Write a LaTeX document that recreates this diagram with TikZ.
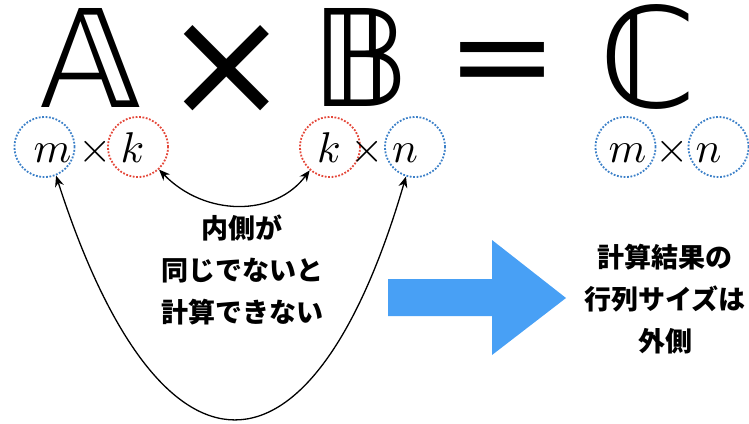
\documentclass[tikz,border=0pt]{standalone}
\usepackage{fontspec}
\usepackage{graphicx}
\usetikzlibrary{arrows.meta}
\newfontfamily\jp{Noto Sans CJK JP}
\newfontfamily\dv{DejaVu Sans}
\definecolor{cblue}{RGB}{60,128,200}
\definecolor{cred}{RGB}{228,72,58}
\definecolor{arrowblue}{RGB}{72,160,245}
\newcommand{\mybigmath}[1]{\scalebox{4.3}{$#1$}}
\tikzset{
  bcirc/.style={circle, draw=cblue, line width=1.8pt, dash pattern=on 1.8pt off 1.6pt, minimum size=60pt, inner sep=0pt},
  rcirc/.style={circle, draw=cred, line width=1.8pt, dash pattern=on 1.8pt off 1.6pt, minimum size=60pt, inner sep=0pt},
  mtext/.style={anchor=base, inner sep=0pt},
  big/.style={inner sep=0pt, font=\dv},
  jtext/.style={font=\jp\bfseries\fontsize{27}{42}\selectfont, align=center, inner sep=0pt},
  dbl/.style={{Stealth[length=11pt,width=9pt]}-{Stealth[length=11pt,width=9pt]}, line width=1.3pt}
}
\begin{document}
\begin{tikzpicture}[x=1pt,y=-1pt]
\useasboundingbox (0,0) rectangle (749,423);
% big equation
\node[big] (A) at (90.5,57.5) {\resizebox{!}{99pt}{𝔸}};
\node[big] (times) at (227,70) {\resizebox{!}{90pt}{×}};
\node[big] (B) at (361,57) {\resizebox{!}{98pt}{𝔹}};
\node[big] (eq) at (502.5,70) {\resizebox{112pt}{56pt}{=}};
\node[big] (C) at (648,56.5) {\resizebox{!}{103pt}{ℂ}};
% circles
\node[bcirc] (cm1) at (44.5,147) {};
\node[rcirc] (ck1) at (138,147) {};
\node[rcirc] (ck2) at (330,147) {};
\node[bcirc] (cn2) at (415,147) {};
\node[bcirc] (cm3) at (625.5,147) {};
\node[bcirc] (cn3) at (718.5,147) {};
% math letters
\node[mtext] (m1) at (52.5,162) {\mybigmath{m}};
\node[mtext] (x1) at (95.5,162) {\mybigmath{\times}};
\node[mtext] (k1) at (132.5,162) {\mybigmath{k}};
\node[mtext] (k2) at (329,162) {\mybigmath{k}};
\node[mtext] (x2) at (367,162) {\mybigmath{\times}};
\node[mtext] (n2) at (405,162) {\mybigmath{n}};
\node[mtext] (m3) at (627.5,162) {\mybigmath{m}};
\node[mtext] (x3) at (672,162) {\mybigmath{\times}};
\node[mtext] (n3) at (708.5,162) {\mybigmath{n}};
% connectors
\draw[dbl] (ck1.-47) .. controls (205,217) and (275,217) .. (ck2.-131);
\draw[dbl] (cm1.-68) .. controls (160,499) and (312,499) .. (cn2.-107);
% texts
\node[jtext] (t1) at (242,270) {内側が\\同じでないと\\計算できない};
\node[jtext] (t2) at (665,299) {計算結果の\\行列サイズは\\外側};
% blue arrow
\fill[arrowblue] (388,279) -- (492,279) -- (492,240) -- (566,298) -- (492,355) -- (492,316) -- (388,316) -- cycle;
\end{tikzpicture}
\end{document}
